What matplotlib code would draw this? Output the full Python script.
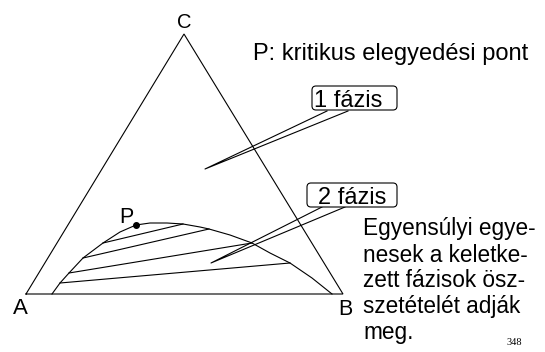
import matplotlib
matplotlib.use("Agg")
import matplotlib.pyplot as plt
from matplotlib.patches import FancyBboxPatch

plt.rcParams['font.family'] = ['Liberation Sans', 'DejaVu Sans']

# Diagram coordinates (pixel-like, y grows downward)
triangle_x = [26, 184, 343, 26]
triangle_y = [294, 34, 294, 294]

vertex_labels = ['A', 'B', 'C']
vertex_lx = [20, 345, 184]
vertex_ly = [314, 315, 28]
vertex_fs = [16, 15.5, 14.5]

binodal_x = [52, 60, 69, 83, 103, 120, 136, 150, 167, 183, 200, 209, 230, 252, 270, 290, 312, 332]
binodal_y = [294, 283, 273, 258, 243, 232, 225, 223, 223, 224, 227, 229, 235, 243, 253, 263, 278, 294]

tie_x1 = [60, 69, 83, 103]
tie_y1 = [283, 273, 258, 243]
tie_x2 = [290, 252, 209, 183]
tie_y2 = [263, 243, 229, 224]

crit_x, crit_y = 136, 225

callout_labels = ['1 fázis', '2 fázis']
box_x = [312, 307]
box_y = [86, 183]
box_w = [85, 90]
box_h = [24, 24]
text_x = [314, 318]
text_base = [107, 204]
tip_x = [205, 211]
tip_y = [169, 263]
root_xa = [327, 322]
root_xb = [348, 345]
root_y = [111, 207]

note_lines = ['Egyensúlyi egye-', 'nesek a keletke-', 'zett fázisok ösz-',
              'szetételét adják', 'meg.']
note_base = [235, 262, 287, 313, 339]

fig = plt.figure(figsize=(5.45, 3.52), dpi=100)
ax = fig.add_axes([0, 0, 1, 1])
ax.set_xlim(0, 545)
ax.set_ylim(352, 0)
ax.axis('off')

lw = 0.8
ax.plot(triangle_x, triangle_y, color='black', lw=lw, solid_joinstyle='miter')
ax.plot(binodal_x, binodal_y, color='black', lw=lw)
for x1, y1, x2, y2 in zip(tie_x1, tie_y1, tie_x2, tie_y2):
    ax.plot([x1, x2], [y1, y2], color='black', lw=lw)
ax.plot([crit_x], [crit_y], 'o', color='black', ms=4)
ax.text(126, 223, 'P', fontsize=15.5, ha='center', va='baseline')

for lab, lx, ly, fs in zip(vertex_labels, vertex_lx, vertex_ly, vertex_fs):
    ax.text(lx, ly, lab, fontsize=fs, ha='center', va='baseline')

ax.text(253, 60, 'P: kritikus elegyedési pont', fontsize=17, ha='left', va='baseline')

for i, lab in enumerate(callout_labels):
    ax.plot([root_xa[i], tip_x[i], root_xb[i]], [root_y[i], tip_y[i], root_y[i]],
            color='black', lw=lw)
    box = FancyBboxPatch((box_x[i], box_y[i]), box_w[i], box_h[i],
                         boxstyle='round,pad=0,rounding_size=4',
                         fc='white', ec='black', lw=lw, zorder=3)
    ax.add_patch(box)
    ax.text(text_x[i], text_base[i], lab, fontsize=17, ha='left', va='baseline', zorder=4)

for line, yb in zip(note_lines, note_base):
    ax.text(363, yb, line, fontsize=16.3, ha='left', va='baseline')

ax.text(514, 345, '348', fontsize=7.5, family=['Liberation Serif', 'DejaVu Serif'],
        ha='center', va='baseline')

fig.savefig('out.png', dpi=100)
